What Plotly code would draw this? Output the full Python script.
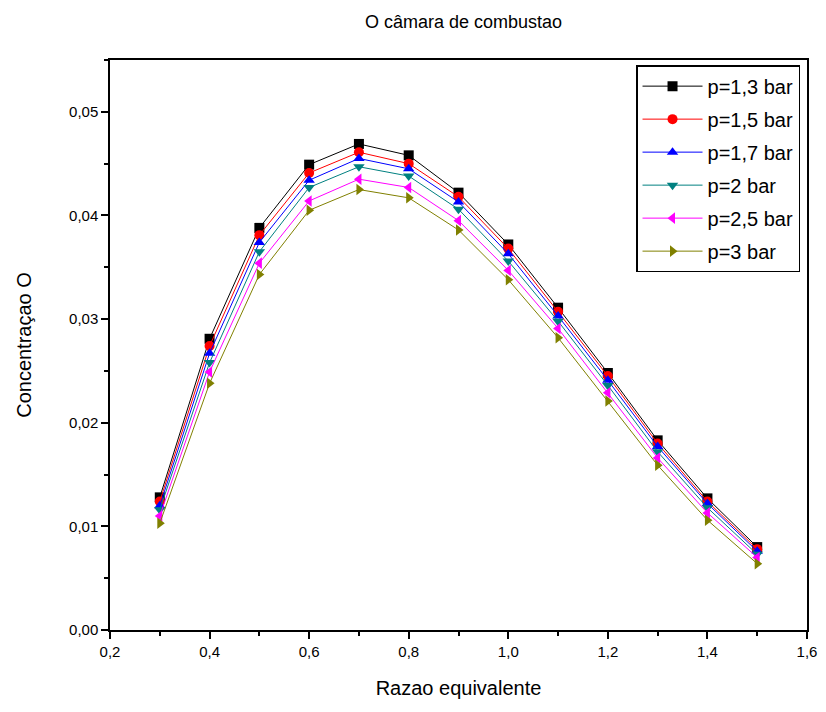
import plotly.graph_objects as go

x_vals = [0.3, 0.4, 0.5, 0.6, 0.7, 0.8, 0.9, 1.0, 1.1, 1.2, 1.3, 1.4, 1.5]

p13 = [0.0128, 0.0281, 0.0388, 0.0449, 0.0469, 0.0458, 0.0422, 0.0372, 0.0311, 0.0248, 0.0183, 0.0127, 0.0080]
p15 = [0.0124, 0.0274, 0.0381, 0.0441, 0.0461, 0.0450, 0.0418, 0.0368, 0.0307, 0.0245, 0.0180, 0.0124, 0.0078]
p17 = [0.0120, 0.0267, 0.0374, 0.0434, 0.0455, 0.0445, 0.0413, 0.0363, 0.0303, 0.0241, 0.0177, 0.0122, 0.0076]
p20 = [0.0116, 0.0258, 0.0365, 0.0427, 0.0447, 0.0438, 0.0406, 0.0356, 0.0298, 0.0236, 0.0172, 0.0118, 0.0073]
p25 = [0.0110, 0.0249, 0.0354, 0.0414, 0.0435, 0.0427, 0.0395, 0.0347, 0.0291, 0.0229, 0.0166, 0.0113, 0.0070]
p30 = [0.0103, 0.0238, 0.0343, 0.0405, 0.0425, 0.0417, 0.0386, 0.0338, 0.0282, 0.0221, 0.0159, 0.0106, 0.0064]

series_names = ["p=1,3 bar", "p=1,5 bar", "p=1,7 bar", "p=2 bar", "p=2,5 bar", "p=3 bar"]
series_values = [p13, p15, p17, p20, p25, p30]
colors = ["#000000", "#ff0000", "#0000ff", "#008080", "#ff00ff", "#808000"]
symbols = ["square", "circle", "triangle-up", "triangle-down", "triangle-left", "triangle-right"]

FONT = "Liberation Sans, Arial, sans-serif"

fig = go.Figure()
for i, (name, vals, c, s) in enumerate(zip(series_names, series_values, colors, symbols)):
    fig.add_trace(go.Scatter(
        x=x_vals, y=vals, name=name, mode="lines+markers", legendgroup=f"g{i}",
        line=dict(color=c, width=1),
        marker=dict(symbol=s, size=10, color=c),
    ))

fig.update_layout(
    width=826, height=712,
    margin=dict(l=110, r=9, t=60, b=82),
    paper_bgcolor="white", plot_bgcolor="white",
    separators=",.",
    font=dict(family=FONT, color="black"),
    title=dict(text="O câmara de combustao", x=(110 + 817) / 2 / 826, xanchor="center",
               y=1 - 22 / 712, yanchor="middle", font=dict(size=18, family=FONT)),
    legend=dict(x=0.99, y=0.991, xanchor="right", yanchor="top",
                bordercolor="black", borderwidth=1.5, bgcolor="white",
                font=dict(size=20, family=FONT), tracegroupgap=4, itemwidth=60),
    showlegend=True,
)

fig.update_xaxes(
    range=[0.2, 1.6], dtick=0.2, tick0=0.2, tickformat=".1f",
    showgrid=False, zeroline=False,
    showline=True, linecolor="black", linewidth=1.5, mirror=True,
    ticks="outside", ticklen=7, tickwidth=1.5, tickcolor="black",
    minor=dict(ticks="outside", ticklen=4, dtick=0.1, tickcolor="black", tickwidth=1.5),
    tickfont=dict(size=15, family=FONT),
    title=dict(text="Razao equivalente", font=dict(size=20, family=FONT), standoff=22),
)
fig.update_yaxes(
    range=[0, 0.055], dtick=0.01, tick0=0, tickformat=".2f",
    showgrid=False, zeroline=False,
    showline=True, linecolor="black", linewidth=1.5, mirror=True,
    ticks="outside", ticklen=7, tickwidth=1.5, tickcolor="black",
    minor=dict(ticks="outside", ticklen=4, dtick=0.005, tickcolor="black", tickwidth=1.5),
    tickfont=dict(size=15, family=FONT),
    title=dict(text="Concentraçao O", font=dict(size=20, family=FONT), standoff=32),
)

fig.write_html("out.html")
